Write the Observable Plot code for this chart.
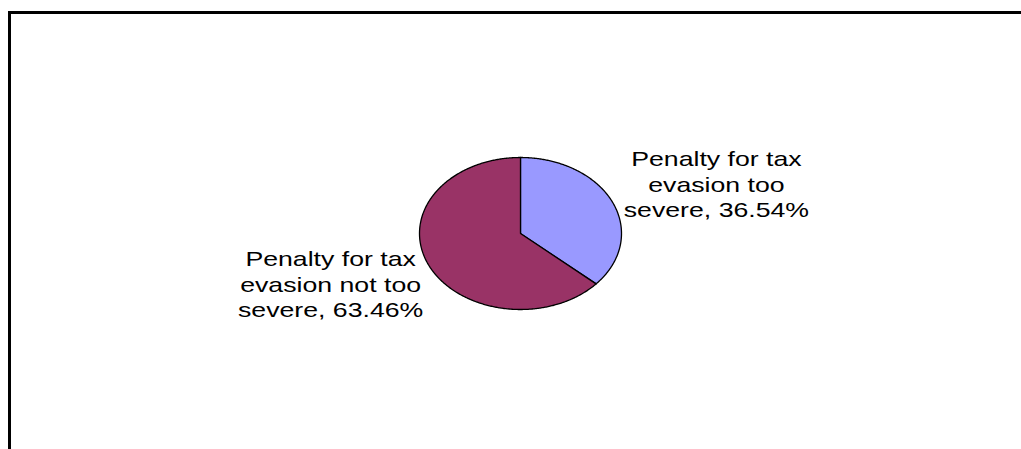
<!DOCTYPE html>
<html>
<head>
<meta charset="utf-8">
<script src="https://cdn.jsdelivr.net/npm/d3@7"></script>
<script src="https://cdn.jsdelivr.net/npm/@observablehq/plot@0.6"></script>
<style>
  html, body { margin: 0; padding: 0; background: #fff; width: 1021px; height: 449px; overflow: hidden; }
  #wrap { position: relative; width: 1021px; height: 449px; }
  #frame { position: absolute; left: 8px; top: 11px; right: 0; bottom: 0; border-top: 3px solid #000; border-left: 3px solid #000; pointer-events: none; }
  #chart { position: absolute; left: 0; top: 0; }
</style>
</head>
<body>
<div id="wrap"><div id="chart"></div><div id="frame"></div></div>
<script>
// Data
const categories = ["Penalty for tax evasion too severe", "Penalty for tax evasion not too severe"];
const shares = [36.54, 63.46];
const labelTexts = ["Penalty for tax\nevasion too\nsevere, 36.54%", "Penalty for tax\nevasion not too\nsevere, 63.46%"];
const colors = ["#9999FF", "#993366"];

// Build slice polygons (angle measured clockwise from 12 o'clock)
const total = d3.sum(shares);
const slices = [];
let acc = 0;
shares.forEach((v, i) => {
  const a0 = acc / total * 2 * Math.PI;
  acc += v;
  const a1 = acc / total * 2 * Math.PI;
  const n = Math.max(2, Math.ceil((a1 - a0) / 0.01));
  slices.push({cat: categories[i], x: 0, y: 0, k: 0});
  for (let j = 0; j <= n; j++) {
    const a = a0 + (a1 - a0) * j / n;
    slices.push({cat: categories[i], x: Math.sin(a), y: Math.cos(a), k: j + 1});
  }
  slices.push({cat: categories[i], x: 0, y: 0, k: n + 2});
});

// Label anchor positions (layout, in pie-radius units)
const labelPos = [{x: 1.94, y: 0.654}, {x: -1.88, y: -0.662}];
const labels = labelTexts.map((t, i) => ({text: t, ...labelPos[i]}));

const chart = Plot.plot({
  width: 1021,
  height: 449,
  margin: 0,
  x: {domain: [-1, 1], range: [419, 621], axis: null},
  y: {domain: [-1, 1], range: [309, 157], axis: null},
  color: {domain: categories, range: colors},
  marks: [
    Plot.line(slices, {x: "x", y: "y", z: "cat", fill: "cat", stroke: "#000", strokeWidth: 1.3, curve: "linear-closed", strokeLinejoin: "round"}),
    Plot.text(labels, {x: "x", y: "y", text: "text", fontSize: 21, lineHeight: 1.214, fill: "#000", textAnchor: "middle", fontFamily: "'Liberation Sans', Arial, sans-serif"})
  ]
});
chart.style.fontFamily = "'Liberation Sans', Arial, sans-serif";
chart.style.background = "transparent";
// horizontal stretch of label glyphs as in the reference
d3.select(chart).selectAll("text").each(function() {
  const t = this.getAttribute("transform");
  if (t) this.setAttribute("transform", t + " scale(1.27,1)");
});
document.getElementById("chart").appendChild(chart);
</script>
</body>
</html>
